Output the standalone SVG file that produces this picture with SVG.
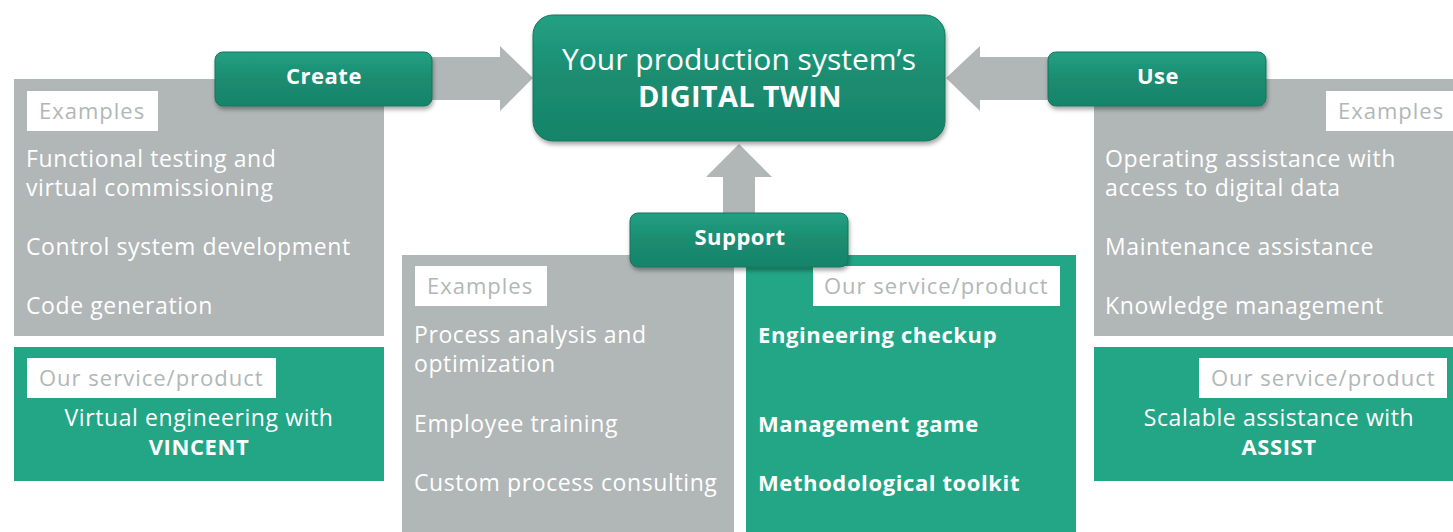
<svg xmlns="http://www.w3.org/2000/svg" width="1453" height="532" viewBox="0 0 1453 532">
<defs>
<linearGradient id="btn" x1="0" y1="0" x2="0" y2="1">
<stop offset="0" stop-color="#23a083"/>
<stop offset="0.5" stop-color="#1b8c70"/>
<stop offset="1" stop-color="#17846a"/>
</linearGradient>
<filter id="sh" x="-10%" y="-10%" width="120%" height="130%">
<feDropShadow dx="1" dy="3" stdDeviation="2" flood-color="#000" flood-opacity="0.35"/>
</filter>
<style>
.gray{fill:#b1b6b6}
.green{fill:#22a685}
.lbl{fill:#ffffff}
.lt{font-family:"Open Sans","Noto Sans",sans-serif;font-size:22px;letter-spacing:1px;fill:#b0b7b7}
.t{font-family:"Open Sans","Noto Sans",sans-serif;font-size:23px;letter-spacing:0.6px;fill:#ffffff}
.b{font-weight:bold;font-size:22px;letter-spacing:0.6px}
.btn{fill:url(#btn);stroke:#15745d;stroke-width:1;filter:url(#sh)}
.bt{font-family:"Open Sans","Noto Sans",sans-serif;font-size:22px;letter-spacing:0.5px;font-weight:bold;fill:#ffffff;text-anchor:middle}
.arrow{fill:#b1b6b6}
</style>
</defs>
<rect width="1453" height="532" fill="#ffffff"/>

<g id="connectors">
<polygon class="arrow" points="380,57 500,57 500,46 533,78 500,111 500,100 380,100"/>
<polygon class="arrow" points="1100,57 980,57 980,46 946,78 980,111 980,100 1100,100"/>
<polygon class="arrow" points="723,220 723,177 706,177 739,144 772,177 755,177 755,220"/>
</g>

<g id="create-examples">
<rect class="gray" x="14" y="79" width="370" height="257"/>
<rect class="lbl" x="27" y="91" width="131" height="40"/>
<text class="lt" x="39" y="119">Examples</text>
<text class="t" x="26" y="167">Functional testing and</text>
<text class="t" x="26" y="196">virtual commissioning</text>
<text class="t" x="26" y="255">Control system development</text>
<text class="t" x="26" y="314">Code generation</text>
</g>

<g id="create-service">
<rect class="green" x="14" y="347" width="370" height="134"/>
<rect class="lbl" x="27" y="358" width="249" height="40"/>
<text class="lt" x="39" y="386">Our service/product</text>
<text class="t" x="199" y="426" text-anchor="middle">Virtual engineering with</text>
<text class="t b" x="199" y="455" text-anchor="middle">VINCENT</text>
</g>

<g id="use-examples">
<rect class="gray" x="1094" y="79" width="359" height="257"/>
<rect class="lbl" x="1326" y="91" width="127" height="40"/>
<text class="lt" x="1338" y="119">Examples</text>
<text class="t" x="1105" y="167">Operating assistance with</text>
<text class="t" x="1105" y="196">access to digital data</text>
<text class="t" x="1105" y="255">Maintenance assistance</text>
<text class="t" x="1105" y="314">Knowledge management</text>
</g>

<g id="use-service">
<rect class="green" x="1094" y="347" width="359" height="134"/>
<rect class="lbl" x="1199" y="358" width="248" height="40"/>
<text class="lt" x="1211" y="386">Our service/product</text>
<text class="t" x="1279" y="426" text-anchor="middle">Scalable assistance with</text>
<text class="t b" x="1279" y="455" text-anchor="middle">ASSIST</text>
</g>

<g id="support-examples">
<rect class="gray" x="402" y="255" width="332" height="277"/>
<rect class="lbl" x="415" y="266" width="132" height="40"/>
<text class="lt" x="427" y="294">Examples</text>
<text class="t" x="414" y="343">Process analysis and</text>
<text class="t" x="414" y="372">optimization</text>
<text class="t" x="414" y="432">Employee training</text>
<text class="t" x="414" y="491">Custom process consulting</text>
</g>

<g id="support-service">
<rect class="green" x="746" y="255" width="330" height="277"/>
<rect class="lbl" x="813" y="266" width="247" height="40"/>
<text class="lt" x="824" y="294">Our service/product</text>
<text class="t b" x="758" y="343">Engineering checkup</text>
<text class="t b" x="758" y="432">Management game</text>
<text class="t b" x="758" y="491">Methodological toolkit</text>
</g>

<g id="digital-twin">
<rect class="btn" x="533" y="15" width="412" height="126" rx="20"/>
<text class="bt" x="739" y="70" style="font-weight:normal;font-size:30px;letter-spacing:0">Your production system’s</text>
<text class="bt" x="740" y="107" style="font-size:29px;letter-spacing:0.3px">DIGITAL TWIN</text>
</g>

<g id="create">
<rect class="btn" x="215" y="52" width="217" height="54" rx="8"/>
<text class="bt" x="324" y="84">Create</text>
</g>

<g id="use">
<rect class="btn" x="1048" y="52" width="218" height="54" rx="8"/>
<text class="bt" x="1158" y="84">Use</text>
</g>

<g id="support">
<rect class="btn" x="630" y="213" width="218" height="54" rx="8"/>
<text class="bt" x="740" y="245">Support</text>
</g>
</svg>
